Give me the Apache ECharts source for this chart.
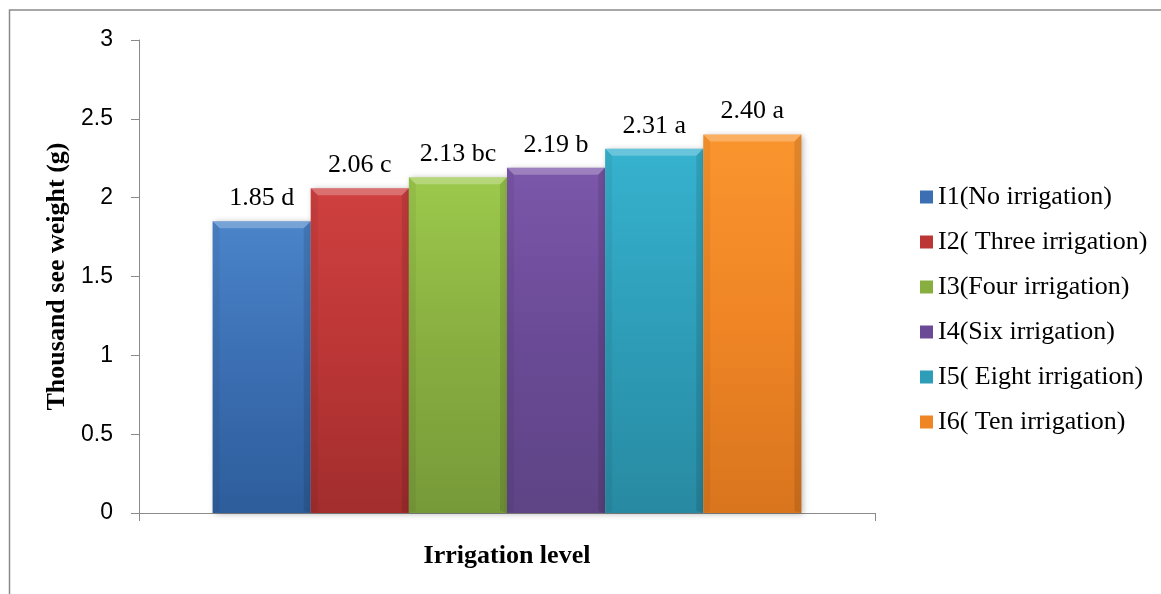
<!DOCTYPE html>
<html>
<head>
<meta charset="utf-8">
<script src="https://cdn.jsdelivr.net/npm/echarts@6/dist/echarts.min.js"></script>
<style>
  html, body { margin: 0; padding: 0; background: #fff; overflow: hidden; }
  #chart { width: 1161px; height: 594px; }
</style>
</head>
<body>
<div id="chart"></div>
<script>
// ---- data ----
const categories = ['Irrigation level'];
const treatments = [
  'I1(No irrigation)',
  'I2( Three irrigation)',
  'I3(Four irrigation)',
  'I4(Six irrigation)',
  'I5( Eight irrigation)',
  'I6( Ten irrigation)'
];
const seedWeight = [1.85, 2.06, 2.13, 2.19, 2.31, 2.40];
const groupLetters = ['d', 'c', 'bc', 'b', 'a', 'a'];
const yTicks = [0, 0.5, 1, 1.5, 2, 2.5, 3];

// ---- styling ----
const shades = [
  { top: '#4A84C9', mid: '#3B6EB2', bottom: '#2D5D9B' },
  { top: '#CF4040', mid: '#BC3636', bottom: '#A22D2D' },
  { top: '#9CC94C', mid: '#88AE40', bottom: '#779A39' },
  { top: '#7C57AA', mid: '#6A4A96', bottom: '#5E4485' },
  { top: '#36B2CF', mid: '#2E9DB8', bottom: '#288AA2' },
  { top: '#FA952E', mid: '#EF8525', bottom: '#D9751E' }
];
const axisGrey = '#8a8a8a';
const serif = '"Liberation Serif", "Times New Roman", serif';
const sans = '"Liberation Sans", Arial, sans-serif';

const chart = echarts.init(document.getElementById('chart'));

// bevelled bar for treatment idx, placed side by side inside the single category
function bevelBar(idx) {
  return function (params, api) {
    const n = seedWeight.length;
    const band = api.size([1, 0])[0];
    const groupW = band * 0.8;
    const w = groupW / n;
    const base = api.coord([api.value(0), 0]);
    const topPt = api.coord([api.value(0), api.value(1)]);
    const x = base[0] - groupW / 2 + idx * w;
    const y = topPt[1];
    const h = base[1] - y;
    const bx = 7, by = 7;
    const c = shades[idx];
    const label = api.value(1).toFixed(2) + ' ' + groupLetters[idx];
    return {
      type: 'group',
      children: [
        {
          type: 'rect',
          shape: { x: x, y: y, width: w, height: h },
          style: {
            fill: new echarts.graphic.LinearGradient(0, 0, 0, 1, [
              { offset: 0, color: c.top },
              { offset: 0.5, color: c.mid },
              { offset: 1, color: c.bottom }
            ]),
            shadowBlur: 6,
            shadowColor: 'rgba(0,0,0,0.28)',
            shadowOffsetX: 2,
            shadowOffsetY: 1
          }
        },
        {
          type: 'polygon',
          shape: { points: [[x, y], [x + w, y], [x + w - bx, y + by], [x + bx, y + by]] },
          style: { fill: 'rgba(255,255,255,0.25)' }
        },
        {
          type: 'polygon',
          shape: { points: [[x + w, y], [x + w, y + h], [x + w - bx, y + h - 2], [x + w - bx, y + by]] },
          style: { fill: 'rgba(0,0,0,0.10)' }
        },
        {
          type: 'polygon',
          shape: { points: [[x, y], [x + bx, y + by], [x + bx, y + h - 2], [x, y + h]] },
          style: { fill: 'rgba(0,0,0,0.05)' }
        },
        {
          type: 'text',
          x: x + w / 2,
          y: y - 10,
          style: {
            text: label,
            fill: '#000',
            fontSize: 26,
            fontFamily: serif,
            align: 'center',
            verticalAlign: 'bottom'
          }
        }
      ]
    };
  };
}

const series = treatments.map(function (name, i) {
  return {
    name: name,
    type: 'custom',
    renderItem: bevelBar(i),
    encode: { x: 0, y: 1 },
    itemStyle: { color: shades[i].mid },
    data: [[0, seedWeight[i]]],
    z: 2 + i
  };
});

chart.setOption({
  animation: false,
  backgroundColor: '#fff',
  graphic: [
    {
      type: 'rect',
      shape: { x: 9.5, y: 10, width: 1300, height: 700 },
      style: { fill: 'none', stroke: axisGrey, lineWidth: 1.5 },
      silent: true,
      z: 0
    }
  ],
  grid: { left: 139, right: 286, top: 40, bottom: 81, containLabel: false },
  legend: {
    orient: 'vertical',
    left: 915,
    top: 179,
    itemWidth: 13,
    itemHeight: 13,
    itemGap: 19,
    icon: 'rect',
    textStyle: { fontSize: 26, lineHeight: 26, fontFamily: serif, color: '#000' },
    data: treatments
  },
  xAxis: {
    type: 'category',
    data: categories,
    name: 'Irrigation level',
    nameLocation: 'middle',
    nameGap: 30,
    nameTextStyle: { fontFamily: serif, fontWeight: 'bold', fontSize: 26, color: '#000' },
    axisLine: { lineStyle: { color: axisGrey, width: 1 } },
    axisTick: { show: true, length: 8, lineStyle: { color: axisGrey } },
    axisLabel: { show: false }
  },
  yAxis: {
    type: 'value',
    min: yTicks[0],
    max: yTicks[yTicks.length - 1],
    interval: yTicks[1] - yTicks[0],
    name: 'Thousand see weight (g)',
    nameLocation: 'middle',
    nameGap: 64,
    nameTextStyle: { fontFamily: serif, fontWeight: 'bold', fontSize: 26, color: '#000' },
    axisLine: { show: true, lineStyle: { color: axisGrey, width: 1 } },
    axisTick: { show: true, length: 8, lineStyle: { color: axisGrey } },
    axisLabel: { margin: 26, fontSize: 23, fontFamily: sans, color: '#000' },
    splitLine: { show: false }
  },
  series: series
});
</script>
</body>
</html>
